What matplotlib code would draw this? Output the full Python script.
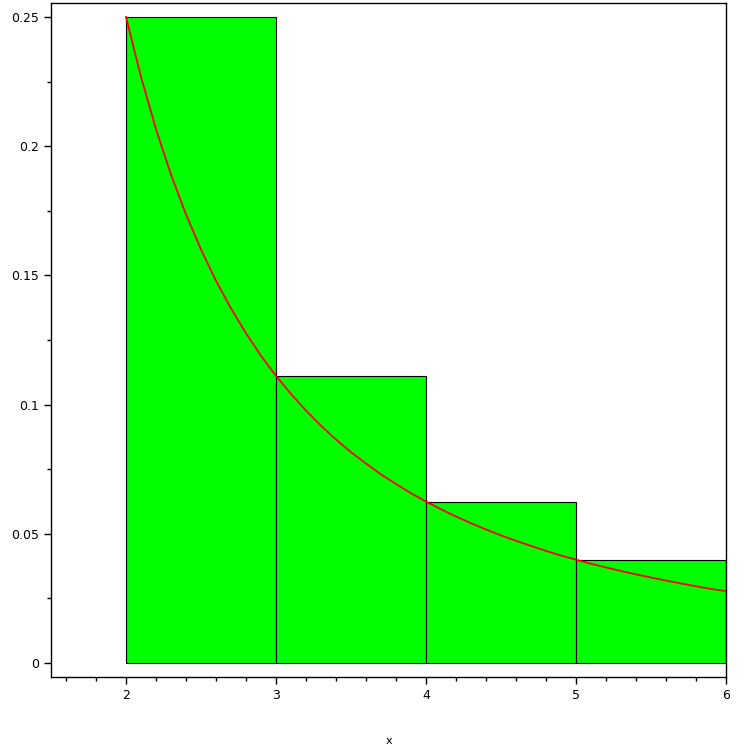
import numpy as np
import matplotlib
matplotlib.use("Agg")
import matplotlib.pyplot as plt
from matplotlib.ticker import MultipleLocator

# left Riemann boxes
box_left = [2, 3, 4, 5]
box_height = [0.25, 0.1111, 0.0625, 0.04]

# curve
curve_x = [2.0, 2.1, 2.2, 2.3, 2.4, 2.5, 2.6, 2.7, 2.8, 2.9, 3.0,
           3.1, 3.2, 3.3, 3.4, 3.5, 3.6, 3.7, 3.8, 3.9, 4.0,
           4.1, 4.2, 4.3, 4.4, 4.5, 4.6, 4.7, 4.8, 4.9, 5.0,
           5.1, 5.2, 5.3, 5.4, 5.5, 5.6, 5.7, 5.8, 5.9, 6.0]
curve_y = [0.25, 0.2268, 0.2066, 0.1890, 0.1736, 0.16, 0.1479, 0.1372, 0.1276, 0.1189, 0.1111,
           0.1041, 0.0977, 0.0918, 0.0865, 0.0816, 0.0772, 0.0730, 0.0693, 0.0657, 0.0625,
           0.0595, 0.0567, 0.0541, 0.0517, 0.0494, 0.0473, 0.0453, 0.0434, 0.0416, 0.04,
           0.0384, 0.0370, 0.0356, 0.0343, 0.0331, 0.0319, 0.0308, 0.0297, 0.0287, 0.0278]

xticks = [2, 3, 4, 5, 6]
yticks = [0, 0.05, 0.1, 0.15, 0.2, 0.25]
ytick_labels = ["0", "0.05", "0.1", "0.15", "0.2", "0.25"]

fig = plt.figure(figsize=(7.51, 7.51), dpi=100)
ax = fig.add_axes([51/751, 74/751, 675/751, 674/751])

ax.bar(box_left, box_height, width=1, align="edge", color="#00ff00",
       edgecolor="black", linewidth=0.8, zorder=2)
ax.plot(curve_x, curve_y, color="red", linewidth=1.3, zorder=3)

ax.set_xlim(1.5, 6)
ax.set_ylim(-0.0054, 0.2554)
ax.set_xticks(xticks)
ax.set_xticklabels([str(t) for t in xticks])
ax.set_yticks(yticks)
ax.set_yticklabels(ytick_labels)
ax.xaxis.set_minor_locator(MultipleLocator(0.2))
ax.yaxis.set_minor_locator(MultipleLocator(0.025))
ax.tick_params(which="major", length=5, width=1, labelsize=9, direction="out")
ax.tick_params(which="minor", length=3, width=1, direction="out")
for s in ax.spines.values():
    s.set_linewidth(1)
ax.set_xlabel("x", fontsize=8)
ax.xaxis.set_label_coords(0.5, -0.087)

fig.savefig("out.png", dpi=100)
